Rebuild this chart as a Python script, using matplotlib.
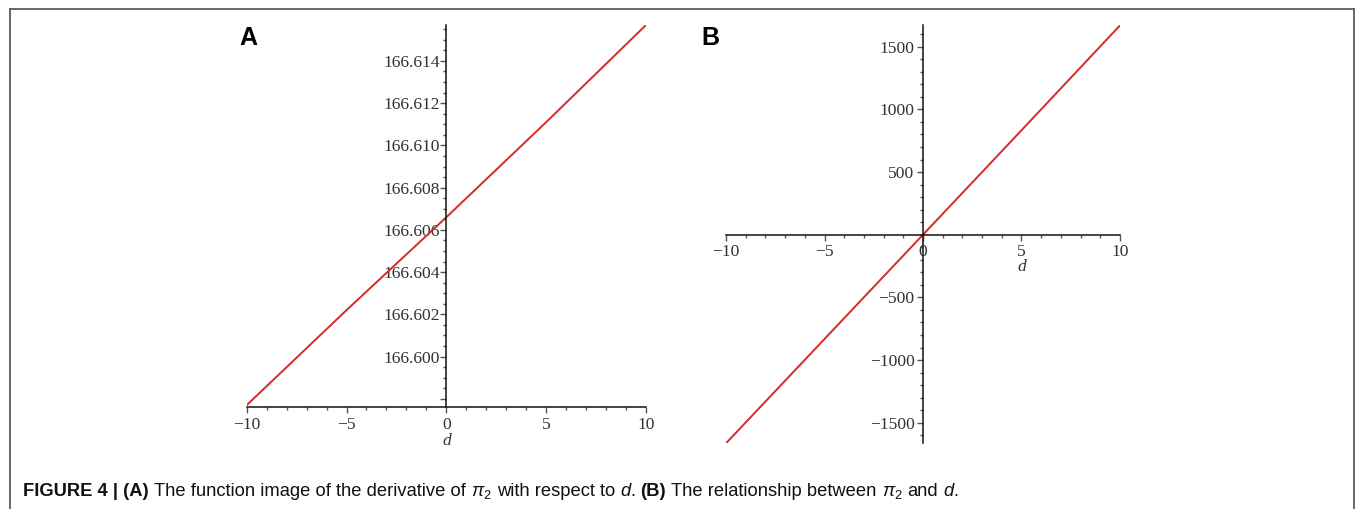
import matplotlib
matplotlib.use("Agg")
import matplotlib.pyplot as plt
from matplotlib.ticker import MultipleLocator, FixedLocator, FuncFormatter
from matplotlib.lines import Line2D

# ---------------- data ----------------
d_values = [-10, -5, 0, 5, 10]
deriv_pi2 = [166.5977, 166.6022, 166.6066, 166.6111, 166.6157]   # panel A
pi2_values = [-1664, -832, 0, 833, 1670]                          # panel B

a_yticks = [166.598, 166.600, 166.602, 166.604, 166.606, 166.608,
            166.610, 166.612, 166.614]
a_ylim = (166.59760, 166.61570)
b_yticks = [-1500, -1000, -500, 500, 1000, 1500]
b_ylim = (-1664, 1673)
x_ticks = [-10, -5, 0, 5, 10]

RED = "#d42a2a"
TXT = "#333333"
W, H = 1355, 509
TICK_SIZE = 12.6

plt.rcParams["mathtext.fontset"] = "custom"
plt.rcParams["mathtext.rm"] = "Liberation Sans"
plt.rcParams["mathtext.it"] = "Liberation Sans:italic"

fig = plt.figure(figsize=(W / 100, H / 100), dpi=100)
fig.patch.set_facecolor("white")


def px_axes(x0, y0, x1, y1):
    return fig.add_axes([x0 / W, 1 - y1 / H, (x1 - x0) / W, (y1 - y0) / H])


def minus(v):
    s = f"{v:g}"
    return s.replace("-", "\u2212")


def style_axes(ax):
    ax.set_facecolor("none")
    for s in ("top", "right"):
        ax.spines[s].set_visible(False)
    for s in ("left", "bottom"):
        ax.spines[s].set_color("#111111")
        ax.spines[s].set_linewidth(1.1)
    ax.tick_params(which="major", direction="out", length=4, width=1,
                   color="#555555", labelcolor=TXT, labelsize=TICK_SIZE)
    ax.tick_params(which="minor", direction="out", length=2.5, width=1,
                   color="#555555")


def serif_labels(ax):
    for lab in ax.get_xticklabels() + ax.get_yticklabels():
        lab.set_fontfamily("Liberation Serif")


# ---------------- panel A ----------------
axA = px_axes(246.7, 25, 646, 407.3)
axA.plot(d_values, deriv_pi2, color=RED, lw=1.4, solid_capstyle="butt")
axA.set_xlim(-10, 10)
axA.set_ylim(*a_ylim)
axA.spines["left"].set_position(("data", 0))
axA.xaxis.set_major_locator(FixedLocator(x_ticks))
axA.xaxis.set_minor_locator(MultipleLocator(1))
axA.yaxis.set_major_locator(FixedLocator(a_yticks))
axA.yaxis.set_minor_locator(MultipleLocator(0.0005))
axA.xaxis.set_major_formatter(FuncFormatter(lambda v, p: minus(v)))
axA.yaxis.set_major_formatter(
    FuncFormatter(lambda v, p: "" if v < 166.599 else f"{v:.3f}"))
style_axes(axA)
axA.tick_params(axis="y", which="major", pad=0.5)
axA.tick_params(axis="x", which="major", pad=3)
serif_labels(axA)
fig.text(447 / W, 1 - 441 / H, "d", family="Liberation Serif", style="italic",
         fontsize=TICK_SIZE, color=TXT, ha="center", va="center")

# ---------------- panel B ----------------
axB = px_axes(726, 25, 1120, 443.3)
axB.plot(d_values, pi2_values, color=RED, lw=1.4, solid_capstyle="butt")
axB.set_xlim(-10, 10)
axB.set_ylim(*b_ylim)
axB.spines["left"].set_position(("data", 0))
axB.spines["bottom"].set_position(("data", 0))
axB.xaxis.set_major_locator(FixedLocator(x_ticks))
axB.xaxis.set_minor_locator(MultipleLocator(1))
axB.yaxis.set_major_locator(FixedLocator(b_yticks))
axB.yaxis.set_minor_locator(MultipleLocator(100))
axB.xaxis.set_major_formatter(FuncFormatter(lambda v, p: minus(v)))
axB.yaxis.set_major_formatter(FuncFormatter(lambda v, p: minus(v)))
style_axes(axB)
axB.tick_params(axis="y", which="major", pad=2)
axB.tick_params(axis="x", which="major", pad=3)
serif_labels(axB)
fig.text(1021.7 / W, 1 - 267 / H, "d", family="Liberation Serif",
         style="italic", fontsize=TICK_SIZE, color=TXT, ha="center",
         va="center")

# ---------------- panel letters ----------------
fig.text(248 / W, 1 - 38 / H, "A", family="Liberation Sans", weight="bold",
         fontsize=18, color="black", ha="center", va="center")
fig.text(710 / W, 1 - 38 / H, "B", family="Liberation Sans", weight="bold",
         fontsize=18, color="black", ha="center", va="center")

# ---------------- frame ----------------
frame_col = "#5a5a5a"
fig.add_artist(Line2D([9.5 / W, 1354 / W], [1 - 8.5 / H, 1 - 8.5 / H],
                      transform=fig.transFigure, color=frame_col, lw=1.3))
fig.add_artist(Line2D([9.5 / W, 9.5 / W], [1 - 8.5 / H, 0],
                      transform=fig.transFigure, color=frame_col, lw=1.3))
fig.add_artist(Line2D([1354 / W, 1354 / W], [1 - 8.5 / H, 0],
                      transform=fig.transFigure, color=frame_col, lw=1.3))

# ---------------- caption ----------------
pieces = [
    ("FIGURE 4 | (A)", "bold", False),
    ("The function image of the derivative of", "normal", True),
    (r"$\pi_2$", "normal", True),
    ("with respect to", "normal", True),
    ("d", "italic", True),
    (".", "normal", False),
    ("(B)", "bold", True),
    ("The relationship between", "normal", True),
    (r"$\pi_2$", "normal", True),
    ("and", "normal", True),
    ("d", "italic", True),
    (".", "normal", False),
]
cap_size = 13.2
renderer = fig.canvas.get_renderer()
x = 23.0
y_base = 1 - 496 / H
space_px = cap_size * 100 / 72 * 0.278
for txt, sty, sp in pieces:
    if sp:
        x += space_px
    kw = dict(family="Liberation Sans", fontsize=cap_size, color="#111111",
              ha="left", va="baseline")
    if sty == "bold":
        kw["weight"] = "bold"
    elif sty == "italic":
        kw["style"] = "italic"
    t = fig.text(x / W, y_base, txt, **kw)
    bb = t.get_window_extent(renderer=renderer)
    x = bb.x1

fig.savefig("out.png", dpi=100, facecolor="white")
